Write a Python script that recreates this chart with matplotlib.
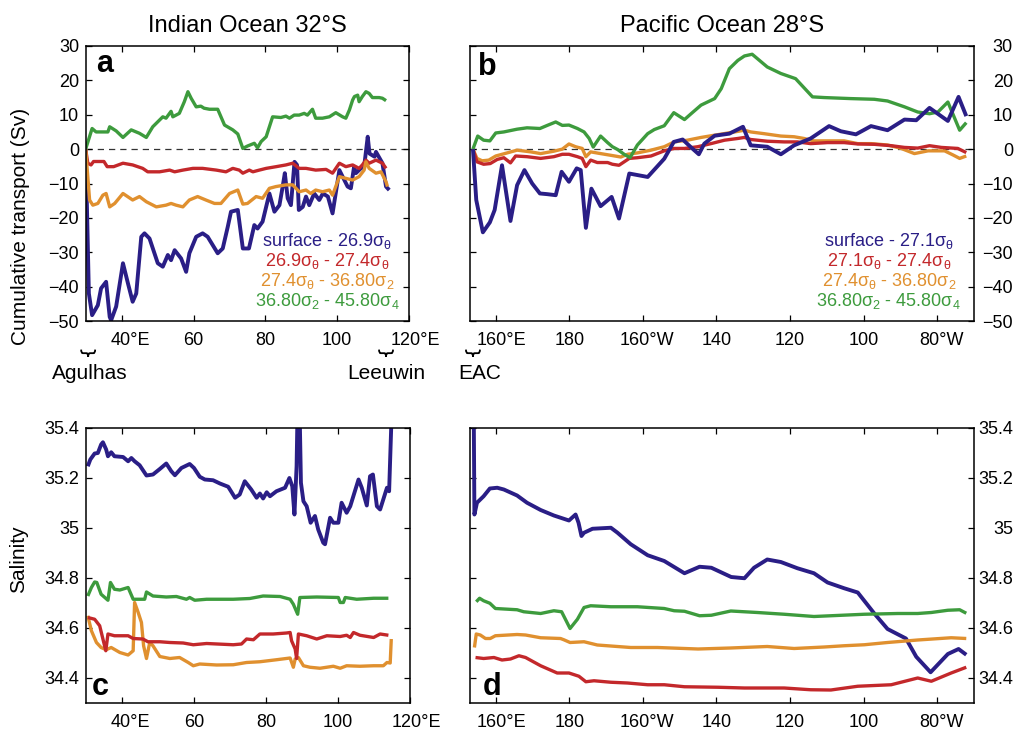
import matplotlib
matplotlib.use("Agg")
import matplotlib.pyplot as plt
from matplotlib.path import Path
from matplotlib.patches import PathPatch
import matplotlib.transforms as mtransforms

plt.rcParams['font.family'] = ['Liberation Sans', 'DejaVu Sans']
plt.rcParams['mathtext.fontset'] = 'custom'
plt.rcParams['mathtext.rm'] = 'Liberation Sans'
plt.rcParams['mathtext.it'] = 'Liberation Sans'
plt.rcParams['mathtext.bf'] = 'Liberation Sans:bold'

C_BLUE = '#2a1e86'
C_RED = '#c3282b'
C_ORANGE = '#e0902f'
C_GREEN = '#3d9b3d'

# ---------------- Data: Indian Ocean 32S transport (Sv) ----------------
ind_green_lon = [29.9, 31.7, 32.8, 36.1, 36.6, 38.4, 40.3, 42.6, 44.9, 46.8, 48.6, 51.4, 52.3, 53.7, 54.2, 56.0, 57.4, 58.4, 59.3, 60.7, 62.0, 62.9, 64.4, 66.7, 68.6, 70.9, 72.3, 73.7, 75.0, 76.9, 77.8, 78.8, 80.2, 82.0, 84.3, 85.7, 86.7, 88.0, 89.4, 90.8, 91.7, 93.1, 94.0, 95.9, 97.8, 99.6, 101.5, 102.4, 103.4, 104.3, 104.8, 105.7, 106.1, 107.0, 108.0, 108.9, 109.8, 111.7, 112.6, 113.6]
ind_green_tr = [0, 6, 5, 5, 6.5, 5.3, 3.4, 5.6, 4.6, 3.4, 6.5, 9.4, 9, 11, 9.4, 10.4, 13.8, 16.7, 14.8, 12.3, 12.5, 11.9, 11.6, 11.6, 7, 5.6, 4.4, 0.2, 0.9, 1.7, 0.4, 2.2, 3.6, 9.4, 9.2, 9.6, 9, 9.9, 9.9, 10.4, 9.9, 11.6, 9, 9, 9.4, 10.6, 9.4, 9, 11.4, 14.3, 15.3, 15.7, 13.8, 15.3, 16.7, 16.2, 15, 15, 14.8, 14.1]

ind_red_lon = [29.9, 30.5, 31.4, 32.1, 35.0, 35.9, 37.7, 40.3, 43.0, 45.8, 47.2, 50.5, 53.3, 54.7, 57.0, 59.8, 62.5, 66.3, 69.0, 70.9, 72.7, 73.7, 75.5, 76.5, 78.3, 80.2, 83.0, 85.7, 87.6, 89.4, 91.3, 94.0, 96.9, 98.7, 100.6, 102.4, 104.3, 106.1, 107.0, 108.0, 108.9, 110.8, 112.6, 113.6]
ind_red_tr = [0, -4.1, -4.6, -3.6, -3.6, -5.1, -5.1, -4.1, -4.6, -5.6, -6.6, -6.6, -6.1, -6.6, -6.1, -5.6, -5.6, -6.1, -6.6, -5.6, -6.1, -7.0, -6.1, -6.6, -6.1, -5.6, -5.1, -4.6, -4.1, -5.6, -5.6, -6.1, -5.9, -7.0, -4.1, -5.1, -4.6, -5.6, -4.6, -3.2, -4.1, -3.2, -4.1, -5.6]

ind_orange_lon = [29.9, 31.0, 31.9, 33.3, 34.7, 35.6, 36.6, 38.0, 40.3, 43.0, 44.9, 46.8, 49.6, 52.3, 53.7, 55.1, 57.0, 58.8, 61.1, 63.4, 65.8, 67.6, 70.0, 72.3, 73.7, 75.0, 77.4, 79.2, 81.1, 82.9, 85.7, 87.6, 89.4, 91.3, 92.6, 94.0, 95.9, 97.8, 98.7, 100.6, 102.4, 104.3, 106.1, 107.5, 108.0, 108.9, 110.8, 112.2, 113.6, 114.0]
ind_orange_tr = [0, -14.8, -16.3, -15.8, -13.4, -12.9, -16.8, -15.8, -12.9, -14.8, -13.8, -15.3, -16.8, -16.3, -15.8, -16.3, -16.8, -14.8, -13.8, -14.8, -15.8, -15.8, -12.9, -11.9, -16.0, -15.8, -13.8, -14.3, -11.4, -10.9, -10.4, -10.4, -12.4, -11.9, -12.9, -11.9, -12.4, -11.9, -13.4, -8.0, -8.5, -9.0, -8.0, -6.1, -3.7, -5.6, -7.0, -6.6, -9.5, -10.9]

ind_blue_lon = [29.9, 30.8, 31.7, 33.3, 34.2, 35.6, 36.6, 37.0, 38.4, 40.3, 41.7, 43.0, 44.0, 45.4, 46.3, 47.7, 50.0, 51.4, 52.8, 53.7, 54.7, 56.5, 57.9, 58.8, 60.7, 62.5, 63.9, 66.7, 68.1, 69.5, 70.4, 72.3, 73.7, 75.4, 76.9, 77.8, 79.2, 81.1, 82.5, 83.9, 84.8, 85.4, 86.2, 87.1, 88.1, 88.8, 89.3, 90.4, 91.3, 92.2, 93.6, 95.0, 96.0, 97.4, 98.7, 100.6, 101.5, 102.9, 103.8, 104.7, 105.2, 106.6, 107.5, 108.5, 109.0, 110.4, 110.8, 112.6, 113.6, 114.5]
ind_blue_tr = [0, -42.0, -48.3, -45.4, -40.5, -38.6, -48.8, -49.8, -45.8, -33.2, -39.1, -44.4, -42.0, -25.5, -24.5, -26.0, -33.2, -34.2, -30.8, -32.3, -29.4, -31.8, -35.7, -30.3, -25.5, -24.5, -25.5, -30.3, -28.9, -22.6, -18.2, -17.7, -28.9, -28.9, -22.1, -23.1, -21.1, -12.9, -18.2, -16.3, -10.9, -7.0, -14.3, -16.3, -3.7, -4.6, -17.7, -16.8, -13.8, -16.3, -12.9, -14.8, -12.9, -13.8, -18.7, -6.1, -8.0, -10.9, -11.4, -5.1, -7.0, -5.6, -5.1, 3.6, -1.3, -2.2, -0.8, -4.1, -10.9, -11.9]

# ---------------- Data: Pacific Ocean 28S transport (Sv), lon in degrees E ----------------
pac_green_lon = [153.8, 155.1, 156.7, 158.4, 160.0, 162.2, 165.8, 168.5, 172.0, 174.0, 176.3, 178.1, 179.9, 182.2, 184.0, 185.4, 186.5, 188.5, 190.4, 191.7, 193.1, 194.9, 196.5, 198.5, 201.3, 203.1, 205.8, 208.4, 211.3, 213.1, 215.8, 219.5, 221.3, 223.5, 225.8, 227.6, 229.7, 233.8, 237.5, 241.5, 246.1, 249.3, 256.5, 262.9, 266.5, 271.1, 274.7, 277.9, 280.2, 282.9, 286.1, 287.9]
pac_green_tr = [0, 3.8, 2.6, 2.4, 4.7, 5.0, 5.8, 6.2, 6.0, 6.9, 7.9, 6.9, 7.0, 6.0, 5.0, 3.1, 0.6, 3.8, 1.9, 0.7, -0.1, -1.5, -2.5, 1.2, 4.5, 5.7, 6.8, 10.6, 8.6, 10.3, 12.8, 14.7, 17.6, 23.4, 25.8, 27.1, 27.6, 23.9, 22.0, 20.5, 15.2, 15.0, 14.7, 14.5, 14.0, 12.3, 10.8, 10.3, 10.8, 13.7, 5.5, 7.7]

pac_orange_lon = [153.8, 154.9, 156.3, 158.1, 160.0, 163.1, 165.8, 169.5, 172.2, 175.8, 178.1, 179.9, 181.7, 183.5, 184.5, 185.8, 188.5, 191.3, 194.0, 195.8, 198.5, 202.2, 205.8, 208.5, 212.1, 215.8, 220.3, 224.9, 227.6, 229.3, 232.9, 237.5, 241.1, 243.8, 246.5, 251.1, 254.7, 258.4, 262.0, 266.5, 270.2, 273.8, 277.5, 282.0, 284.3, 286.1, 287.9]
pac_orange_tr = [0, -2.7, -3.4, -3.2, -2.0, -1.1, -0.3, -0.8, -1.3, -0.6, 0.0, 1.5, 0.7, 0.2, -2.2, -0.8, -1.3, -1.8, -2.3, -1.5, -1.1, -0.3, 0.7, 2.1, 2.6, 3.4, 4.2, 5.0, 5.5, 5.0, 4.5, 3.8, 3.6, 3.1, 2.4, 2.4, 2.4, 1.6, 1.6, 1.2, 0.2, -1.3, -0.5, -0.5, -1.7, -2.7, -2.0]

pac_red_lon = [153.8, 154.9, 156.7, 158.5, 160.4, 162.2, 164.0, 165.4, 168.5, 172.2, 175.8, 178.1, 179.9, 182.2, 183.5, 184.5, 185.8, 187.6, 190.4, 191.7, 193.5, 196.3, 198.5, 202.2, 205.8, 208.5, 211.3, 214.9, 218.5, 222.2, 225.8, 227.6, 229.3, 233.8, 238.4, 242.0, 245.6, 250.2, 254.7, 258.4, 262.9, 267.5, 271.1, 274.7, 277.9, 281.1, 285.6, 287.9]
pac_red_tr = [0, -3.7, -4.4, -4.2, -3.0, -2.5, -4.0, -2.0, -2.2, -2.7, -2.2, -1.5, -1.5, -2.2, -2.7, -5.1, -3.2, -3.9, -3.9, -4.4, -4.7, -2.7, -2.5, -2.0, -0.5, 0.2, 0.2, 0.7, 1.6, 2.6, 3.1, 3.4, 2.8, 2.3, 2.1, 2.1, 1.6, 1.9, 1.9, 1.5, 1.4, 1.0, 0.5, 0.3, 1.0, 0.5, 0.2, -1.0]

pac_blue_lon = [153.8, 154.7, 156.5, 158.4, 159.7, 161.7, 164.0, 165.8, 167.8, 169.9, 172.0, 174.0, 176.3, 177.9, 179.9, 182.0, 183.1, 184.5, 186.0, 188.5, 191.5, 193.5, 196.3, 201.3, 205.8, 208.4, 210.8, 213.1, 215.2, 216.7, 219.5, 223.5, 227.2, 229.3, 233.8, 237.5, 241.1, 245.6, 250.6, 253.8, 257.9, 262.0, 266.5, 271.1, 274.3, 277.9, 282.9, 285.8, 287.9]
pac_blue_tr = [0, -14.8, -24.2, -21.3, -17.7, -4.7, -20.9, -10.5, -6.1, -10.0, -12.9, -13.1, -13.4, -6.6, -9.5, -5.6, -6.1, -22.9, -11.5, -16.6, -13.9, -20.2, -7.1, -8.1, -2.8, 2.1, 2.8, 0.5, -1.5, 1.6, 3.9, 4.5, 6.5, 1.1, 0.7, -1.5, 1.1, 3.1, 6.7, 5.2, 4.3, 6.7, 5.5, 8.6, 8.4, 12.0, 8.2, 15.2, 9.6]

# ---------------- Data: Indian Ocean salinity ----------------
ind_blue_slon = [30.5, 31.2, 32.4, 33.3, 34.2, 34.7, 35.6, 36.1, 37.0, 37.9, 40.3, 41.7, 42.6, 43.5, 44.9, 46.8, 48.6, 50.5, 52.3, 53.7, 54.7, 56.5, 58.8, 60.0, 61.6, 63.0, 65.3, 67.2, 69.5, 71.4, 72.7, 74.1, 75.9, 77.4, 78.3, 79.2, 80.2, 81.1, 82.9, 85.3, 86.5, 87.3, 87.9, 88.5, 88.8, 89.3, 89.7, 90.4, 91.3, 92.4, 93.6, 94.5, 95.9, 96.4, 97.8, 98.7, 100.1, 101.0, 102.4, 103.4, 105.7, 106.6, 108.0, 108.9, 109.7, 110.8, 111.7, 113.6, 114.2, 115.0]
ind_blue_sal = [35.247, 35.274, 35.298, 35.300, 35.334, 35.343, 35.314, 35.287, 35.303, 35.287, 35.284, 35.267, 35.280, 35.267, 35.251, 35.210, 35.214, 35.236, 35.258, 35.227, 35.211, 35.240, 35.256, 35.240, 35.205, 35.194, 35.191, 35.178, 35.165, 35.121, 35.134, 35.187, 35.154, 35.121, 35.138, 35.118, 35.143, 35.127, 35.147, 35.161, 35.200, 35.167, 35.054, 35.247, 35.500, 35.500, 35.181, 35.107, 35.087, 35.021, 35.048, 34.994, 34.941, 34.935, 35.041, 35.021, 35.021, 35.101, 35.061, 35.087, 35.194, 35.161, 35.090, 35.207, 35.214, 35.087, 35.074, 35.161, 35.147, 35.500]

ind_green_slon = [30.5, 31.5, 32.4, 33.0, 34.2, 36.1, 36.8, 37.9, 39.4, 41.7, 43.1, 44.9, 46.3, 46.8, 48.6, 52.3, 55.1, 57.9, 58.8, 60.2, 63.5, 70.9, 75.5, 79.2, 83.9, 86.7, 87.6, 88.8, 89.4, 94.1, 100.1, 100.6, 101.5, 102.0, 105.2, 109.9, 114.0]
ind_green_sal = [34.728, 34.762, 34.784, 34.782, 34.735, 34.711, 34.782, 34.755, 34.752, 34.762, 34.715, 34.715, 34.715, 34.744, 34.728, 34.724, 34.726, 34.715, 34.722, 34.711, 34.715, 34.715, 34.718, 34.728, 34.726, 34.715, 34.695, 34.655, 34.722, 34.724, 34.722, 34.702, 34.702, 34.722, 34.715, 34.719, 34.719]

ind_red_slon = [30.5, 32.4, 33.8, 34.7, 35.5, 36.1, 37.9, 41.7, 43.1, 45.8, 47.2, 50.5, 53.3, 57.0, 59.8, 63.5, 70.9, 73.2, 74.6, 76.5, 78.3, 82.0, 85.7, 86.7, 87.1, 88.1, 88.5, 89.0, 91.3, 94.1, 96.9, 100.6, 102.4, 103.4, 104.3, 106.1, 109.9, 111.7, 114.0]
ind_red_sal = [34.642, 34.635, 34.609, 34.556, 34.509, 34.576, 34.569, 34.569, 34.558, 34.556, 34.545, 34.545, 34.542, 34.540, 34.533, 34.538, 34.533, 34.536, 34.556, 34.553, 34.576, 34.576, 34.580, 34.582, 34.549, 34.516, 34.478, 34.576, 34.569, 34.556, 34.569, 34.566, 34.571, 34.562, 34.582, 34.571, 34.562, 34.576, 34.571]

ind_orange_slon = [30.5, 31.5, 32.9, 34.2, 35.6, 37.0, 39.4, 41.7, 43.1, 43.5, 44.5, 45.4, 46.0, 46.8, 47.7, 48.6, 50.5, 53.3, 56.0, 58.4, 59.8, 61.6, 66.3, 70.9, 74.6, 78.3, 82.9, 86.7, 87.6, 88.1, 89.0, 90.4, 92.2, 95.0, 98.7, 100.6, 102.4, 106.1, 109.9, 112.6, 113.6, 114.5, 114.8]
ind_orange_sal = [34.649, 34.589, 34.542, 34.522, 34.513, 34.522, 34.502, 34.492, 34.509, 34.702, 34.662, 34.622, 34.529, 34.478, 34.542, 34.529, 34.486, 34.478, 34.482, 34.462, 34.449, 34.456, 34.452, 34.453, 34.462, 34.465, 34.473, 34.480, 34.443, 34.476, 34.482, 34.449, 34.443, 34.439, 34.447, 34.439, 34.449, 34.447, 34.449, 34.449, 34.462, 34.460, 34.556]

# ---------------- Data: Pacific Ocean salinity ----------------
pac_blue_slon = [154.0, 154.2, 154.9, 156.7, 158.4, 160.4, 162.2, 165.8, 168.5, 172.2, 175.8, 179.9, 181.7, 182.5, 183.3, 184.0, 186.3, 191.3, 193.1, 196.7, 201.3, 205.8, 211.3, 215.4, 218.6, 224.0, 227.6, 230.2, 233.8, 237.5, 242.0, 246.5, 250.2, 254.7, 258.4, 262.9, 266.5, 271.5, 274.3, 278.2, 282.9, 285.8, 287.9]
pac_blue_sal = [35.5, 35.054, 35.101, 35.127, 35.158, 35.161, 35.154, 35.130, 35.101, 35.072, 35.050, 35.030, 35.054, 35.021, 34.968, 34.981, 34.997, 35.001, 34.981, 34.935, 34.891, 34.868, 34.819, 34.845, 34.841, 34.804, 34.799, 34.841, 34.874, 34.864, 34.839, 34.819, 34.782, 34.759, 34.742, 34.658, 34.596, 34.558, 34.485, 34.423, 34.496, 34.516, 34.493]

pac_green_slon = [154.7, 155.6, 156.7, 158.4, 159.9, 165.8, 167.6, 172.2, 175.8, 177.9, 180.2, 182.2, 184.0, 185.8, 191.3, 198.5, 205.8, 208.5, 211.3, 215.4, 218.6, 223.9, 231.1, 238.4, 246.5, 251.1, 260.2, 269.3, 274.7, 278.4, 282.9, 286.1, 287.9]
pac_green_sal = [34.705, 34.719, 34.709, 34.699, 34.678, 34.673, 34.665, 34.658, 34.669, 34.665, 34.598, 34.635, 34.682, 34.689, 34.685, 34.685, 34.678, 34.669, 34.667, 34.649, 34.651, 34.668, 34.662, 34.655, 34.646, 34.649, 34.655, 34.658, 34.658, 34.662, 34.671, 34.673, 34.659]

pac_orange_slon = [154.2, 154.7, 155.8, 157.2, 158.5, 159.9, 165.8, 168.1, 172.2, 177.6, 178.5, 180.2, 184.0, 187.6, 196.7, 204.0, 215.0, 223.8, 233.8, 241.1, 249.3, 254.7, 260.2, 266.5, 274.7, 283.8, 287.9]
pac_orange_sal = [34.522, 34.576, 34.572, 34.558, 34.558, 34.569, 34.574, 34.572, 34.561, 34.558, 34.553, 34.542, 34.545, 34.532, 34.522, 34.522, 34.516, 34.520, 34.526, 34.518, 34.524, 34.529, 34.533, 34.542, 34.552, 34.561, 34.558]

pac_red_slon = [154.5, 156.7, 159.5, 161.7, 164.0, 166.3, 168.1, 172.2, 176.7, 179.9, 182.6, 184.5, 186.7, 191.3, 195.8, 201.3, 205.8, 211.3, 220.4, 227.6, 238.4, 245.6, 251.1, 258.4, 267.5, 274.7, 278.4, 283.8, 287.9]
pac_red_sal = [34.482, 34.478, 34.482, 34.472, 34.476, 34.489, 34.482, 34.449, 34.420, 34.420, 34.407, 34.385, 34.389, 34.383, 34.380, 34.373, 34.373, 34.365, 34.363, 34.360, 34.360, 34.353, 34.352, 34.367, 34.373, 34.400, 34.387, 34.420, 34.443]

# ---------------- Ticks / labels ----------------
ind_xticks = [40, 60, 80, 100, 120]
ind_xlabels = ['40°E', '60', '80', '100', '120°E']
pac_xticks = [160, 180, 200, 220, 240, 260, 280]
pac_xlabels = ['160°E', '180', '160°W', '140', '120', '100', '80°W']
tr_yticks = [-50, -40, -30, -20, -10, 0, 10, 20, 30]
tr_ylabels = ['\u221250', '\u221240', '\u221230', '\u221220', '\u221210', '0', '10', '20', '30']
sal_yticks = [34.4, 34.6, 34.8, 35.0, 35.2, 35.4]
sal_ylabels = ['34.4', '34.6', '34.8', '35', '35.2', '35.4']

ind_legend = ['surface - 26.9σ$_\\mathrm{θ}$', '26.9σ$_\\mathrm{θ}$ - 27.4σ$_\\mathrm{θ}$',
              '27.4σ$_\\mathrm{θ}$ - 36.80σ$_\\mathrm{2}$', '36.80σ$_\\mathrm{2}$ - 45.80σ$_\\mathrm{4}$']
pac_legend = ['surface - 27.1σ$_\\mathrm{θ}$', '27.1σ$_\\mathrm{θ}$ - 27.4σ$_\\mathrm{θ}$',
              '27.4σ$_\\mathrm{θ}$ - 36.80σ$_\\mathrm{2}$', '36.80σ$_\\mathrm{2}$ - 45.80σ$_\\mathrm{4}$']
legend_colors = [C_BLUE, C_RED, C_ORANGE, C_GREEN]

# horizontal nudge (pixels) of the degree-suffixed tick labels, as in the original rendering
label_nudge = {'40°E': 8, '120°E': 6, '160°E': 6, '160°W': 4, '80°W': 4}

W, H = 1017, 731
fig = plt.figure(figsize=(W / 100, H / 100), dpi=100)


def px_axes(l, t, r, b):
    return fig.add_axes([l / W, 1 - b / H, (r - l) / W, (b - t) / H])


ax_a = px_axes(86, 46, 409, 321)
ax_b = px_axes(470, 46, 974, 321)
ax_c = px_axes(86, 428, 410, 703)
ax_d = px_axes(470, 428, 974, 703)

LW = 2.4
LW_BLUE = 2.8


def style(ax, xticks, xlabels, yticks, ylabels, right=False):
    ax.set_xticks(xticks)
    ax.set_xticklabels(xlabels)
    ax.set_yticks(yticks)
    ax.set_yticklabels(ylabels)
    for s in ax.spines.values():
        s.set_linewidth(1.1)
    ax.tick_params(axis='both', which='both', direction='in', length=4, width=0.9,
                   top=True, right=True, bottom=True, left=True, labelsize=13, colors='k')
    ax.tick_params(axis='x', pad=8)
    if right:
        ax.tick_params(axis='y', labelleft=False, labelright=True, pad=28)
        for t in ax.yaxis.get_major_ticks():
            t.label2.set_horizontalalignment('right')
    else:
        ax.tick_params(axis='y', pad=5)
    for lbl in ax.get_xticklabels():
        dx = label_nudge.get(lbl.get_text(), 0)
        if dx:
            lbl.set_transform(lbl.get_transform() +
                              mtransforms.ScaledTranslation(dx / 100, 0, fig.dpi_scale_trans))


def draw_lines(ax, series):
    for lon, val, col in series:
        ax.plot(lon, val, color=col, lw=(LW_BLUE if col == C_BLUE else LW),
                solid_joinstyle='round', solid_capstyle='butt')


draw_lines(ax_a, [(ind_blue_lon, ind_blue_tr, C_BLUE), (ind_red_lon, ind_red_tr, C_RED),
                  (ind_orange_lon, ind_orange_tr, C_ORANGE), (ind_green_lon, ind_green_tr, C_GREEN)])
draw_lines(ax_b, [(pac_orange_lon, pac_orange_tr, C_ORANGE), (pac_red_lon, pac_red_tr, C_RED),
                  (pac_green_lon, pac_green_tr, C_GREEN), (pac_blue_lon, pac_blue_tr, C_BLUE)])
draw_lines(ax_c, [(ind_blue_slon, ind_blue_sal, C_BLUE), (ind_green_slon, ind_green_sal, C_GREEN),
                  (ind_orange_slon, ind_orange_sal, C_ORANGE), (ind_red_slon, ind_red_sal, C_RED)])
draw_lines(ax_d, [(pac_blue_slon, pac_blue_sal, C_BLUE), (pac_green_slon, pac_green_sal, C_GREEN),
                  (pac_orange_slon, pac_orange_sal, C_ORANGE), (pac_red_slon, pac_red_sal, C_RED)])

for ax in (ax_a, ax_b):
    ax.axhline(0, color='#333333', lw=0.9, ls=(0, (5, 4)), zorder=1)

ax_a.set_xlim(30, 120)
ax_c.set_xlim(30, 120)
ax_b.set_xlim(153, 290)
ax_d.set_xlim(153, 290)
ax_a.set_ylim(-50, 30)
ax_b.set_ylim(-50, 30)
ax_c.set_ylim(34.3, 35.4)
ax_d.set_ylim(34.3, 35.4)

style(ax_a, ind_xticks, ind_xlabels, tr_yticks, tr_ylabels)
style(ax_b, pac_xticks, pac_xlabels, tr_yticks, tr_ylabels, right=True)
style(ax_c, ind_xticks, ind_xlabels, sal_yticks, sal_ylabels)
style(ax_d, pac_xticks, pac_xlabels, sal_yticks, sal_ylabels, right=True)

ax_a.set_title('Indian Ocean 32°S', fontsize=17, pad=10)
ax_b.set_title('Pacific Ocean 28°S', fontsize=17, pad=10)

# panel letters
for ax, letter, x, y in [(ax_a, 'a', 0.031, 0.905), (ax_b, 'b', 0.016, 0.896),
                         (ax_c, 'c', 0.019, 0.029), (ax_d, 'd', 0.026, 0.029)]:
    ax.text(x, y, letter, transform=ax.transAxes, fontsize=22, fontweight='bold',
            ha='left', va='baseline')

# in-panel legends (coloured text)
for ax, lines, xc in [(ax_a, ind_legend, 0.746), (ax_b, pac_legend, 0.831)]:
    for i, (txt, col) in enumerate(zip(lines, legend_colors)):
        ybase = 246 + 20 * i
        ax.text(xc, (321 - ybase) / 275, txt, transform=ax.transAxes, color=col,
                fontsize=13, ha='center', va='baseline')

# axis labels
fig.text(21 / W, 1 - 226 / H, 'Cumulative transport (Sv)', rotation=90, fontsize=15,
         ha='center', va='center')
fig.text(19 / W, 1 - 559 / H, 'Salinity', rotation=90, fontsize=15, ha='center', va='center')


def brace(ax, xc, width):
    verts_uv = [(0, 0), (0, 0.5), (0.12, 0.5), (0.38, 0.5), (0.5, 0.5), (0.5, 1),
                (0.5, 0.5), (0.62, 0.5), (0.88, 0.5), (1, 0.5), (1, 0)]
    codes = [Path.MOVETO, Path.CURVE3, Path.CURVE3, Path.LINETO, Path.CURVE3, Path.CURVE3,
             Path.CURVE3, Path.CURVE3, Path.LINETO, Path.CURVE3, Path.CURVE3]
    ytop, h = -0.104, 0.026
    verts = [(xc + (u - 0.5) * width, ytop - v * h) for u, v in verts_uv]
    trans = mtransforms.blended_transform_factory(ax.transData, ax.transAxes)
    p = PathPatch(Path(verts, codes), transform=trans, fill=False, lw=1.3,
                  edgecolor='k', clip_on=False)
    ax.add_patch(p)


brace(ax_a, 30.6, 3.9)
brace(ax_a, 113.6, 3.9)
brace(ax_b, 153.8, 3.8)
trans_a = mtransforms.blended_transform_factory(ax_a.transData, ax_a.transAxes)
trans_b = mtransforms.blended_transform_factory(ax_b.transData, ax_b.transAxes)
ax_a.text(31.1, -0.192, 'Agulhas', transform=trans_a, fontsize=15, ha='center', va='center')
ax_a.text(113.6, -0.192, 'Leeuwin', transform=trans_a, fontsize=15, ha='center', va='center')
ax_b.text(155.5, -0.192, 'EAC', transform=trans_b, fontsize=15, ha='center', va='center')

fig.savefig('out.png', dpi=100)
